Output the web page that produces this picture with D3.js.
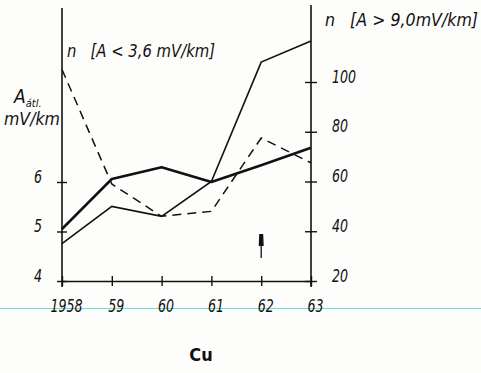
<!DOCTYPE html>
<html>
<head>
<meta charset="utf-8">
<script src="https://cdn.jsdelivr.net/npm/d3@7"></script>
<style>
  body { margin: 0; background: #fdfdfb; }
  svg text { font-family: "DejaVu Sans Condensed", "Liberation Sans", sans-serif; font-style: italic; fill: #111; }
</style>
</head>
<body>
<div id="chart"></div>
<script>
var width = 481;
var height = 373;

// data
var years = [1958, 1959, 1960, 1961, 1962, 1963];
var yearLabels = ["1958", "59", "60", "61", "62", "63"];
var aMean = [5.05, 6.06, 6.3, 6.0, 6.34, 6.69];      // A átl. mV/km (left)
var nLow = [105, 59, 46, 48, 77.5, 67.5];           // n [A<3,6 mV/km] (right, dashed)
var nHigh = [35, 50, 46, 60, 108, 116.5];           // n [A>9,0 mV/km] (right, thin)
var leftTicks = [4, 5, 6];
var rightTicks = [20, 40, 60, 80, 100];

var sx = 0.78; // narrow the tick digits

const svg = d3.select("#chart")
    .append("svg")
    .attr("width", width)
    .attr("height", height);

svg.append("rect").attr("width", width).attr("height", height).attr("fill", "#fdfdfb");

var x = d3.scaleLinear().domain([1958, 1963]).range([62, 311]);
var yL = d3.scaleLinear().domain([4, 6]).range([281, 182]);
var yR = d3.scaleLinear().domain([20, 100]).range([281, 82]);

// scan artefact line
svg.append("line")
    .attr("x1", 0).attr("x2", width)
    .attr("y1", 308.5).attr("y2", 308.5)
    .attr("stroke", "#6fdcdc").attr("stroke-width", 1.2);

// axes
var xAxis = svg.append("g")
    .attr("transform", "translate(0,281)")
    .call(d3.axisBottom(x).tickValues(years).tickFormat((d, i) => yearLabels[i]).tickSize(5).tickSizeOuter(0));
xAxis.select(".domain").attr("stroke", "#111").attr("stroke-width", 1.6);
xAxis.selectAll(".tick line").attr("y1", -5).attr("stroke", "#111").attr("stroke-width", 1.4);
xAxis.selectAll(".tick text").attr("y", 18).attr("x", 4 / sx)
    .attr("transform", "scale(" + sx + ",1)").attr("font-size", 18);

var lAxis = svg.append("g")
    .attr("transform", "translate(62,0)")
    .call(d3.axisLeft(yL).tickValues(leftTicks).tickFormat(d3.format("d")).tickSize(5).tickSizeOuter(0));
lAxis.select(".domain").remove();
lAxis.append("line").attr("y1", 8).attr("y2", 287).attr("stroke", "#111").attr("stroke-width", 1.6);
lAxis.selectAll(".tick line").attr("x2", -5).attr("x1", 5).attr("stroke", "#111").attr("stroke-width", 1.4);
lAxis.selectAll(".tick text").attr("x", -20 / sx).attr("dy", "0")
    .attr("transform", "scale(" + sx + ",1)").attr("font-size", 18);

var rAxis = svg.append("g")
    .attr("transform", "translate(311,0)")
    .call(d3.axisRight(yR).tickValues(rightTicks).tickSize(6).tickSizeOuter(0));
rAxis.select(".domain").remove();
rAxis.append("line").attr("y1", 5).attr("y2", 287).attr("stroke", "#111").attr("stroke-width", 1.6);
rAxis.selectAll(".tick line").attr("x1", -6).attr("stroke", "#111").attr("stroke-width", 1.4);
rAxis.selectAll(".tick text").attr("x", 21 / sx).attr("dy", "0")
    .attr("transform", "scale(" + sx + ",1)").attr("font-size", 18);

svg.selectAll(".tick text").attr("fill", "#111");

// series
var lineL = d3.line().x((d, i) => x(years[i])).y(d => yL(d));
var lineR = d3.line().x((d, i) => x(years[i])).y(d => yR(d));

svg.append("path").datum(nLow)
    .attr("d", lineR).attr("fill", "none")
    .attr("stroke", "#111").attr("stroke-width", 1.5)
    .attr("stroke-dasharray", "9,6");

svg.append("path").datum(nHigh)
    .attr("d", lineR).attr("fill", "none")
    .attr("stroke", "#111").attr("stroke-width", 1.6);

svg.append("path").datum(aMean)
    .attr("d", lineL).attr("fill", "none")
    .attr("stroke", "#111").attr("stroke-width", 2.6)
    .attr("stroke-linejoin", "round");

// arrow under 1962
var ax = x(1962);
svg.append("line").attr("x1", ax).attr("x2", ax).attr("y1", 244).attr("y2", 258)
    .attr("stroke", "#111").attr("stroke-width", 1.3);
svg.append("path")
    .attr("d", "M" + (ax - 2.5) + ",246 L" + (ax - 2) + ",234 L" + (ax + 2) + ",234 L" + (ax + 2.5) + ",246 Z")
    .attr("fill", "#111");

// labels
svg.append("text").attr("x", 67).attr("y", 57).attr("font-size", 18)
    .style("white-space", "pre")
    .attr("textLength", 148).attr("lengthAdjust", "spacingAndGlyphs")
    .text("n   [A < 3,6 mV/km]");
svg.append("text").attr("x", 325).attr("y", 26).attr("font-size", 18)
    .style("white-space", "pre")
    .attr("textLength", 153).attr("lengthAdjust", "spacingAndGlyphs")
    .text("n   [A > 9,0mV/km]");

var at = svg.append("text").attr("x", 14).attr("y", 103).attr("font-size", 19);
at.append("tspan").text("A");
at.append("tspan").attr("font-size", 11).attr("dy", 4).text("átl.");
svg.append("text").attr("x", 4).attr("y", 125).attr("font-size", 17)
    .attr("textLength", 56).attr("lengthAdjust", "spacingAndGlyphs").text("mV/km");

svg.append("text").attr("x", 201).attr("y", 361).attr("font-size", 18)
    .attr("font-weight", "bold").attr("text-anchor", "middle")
    .style("font-style", "normal").text("Cu");
</script>
</body>
</html>
